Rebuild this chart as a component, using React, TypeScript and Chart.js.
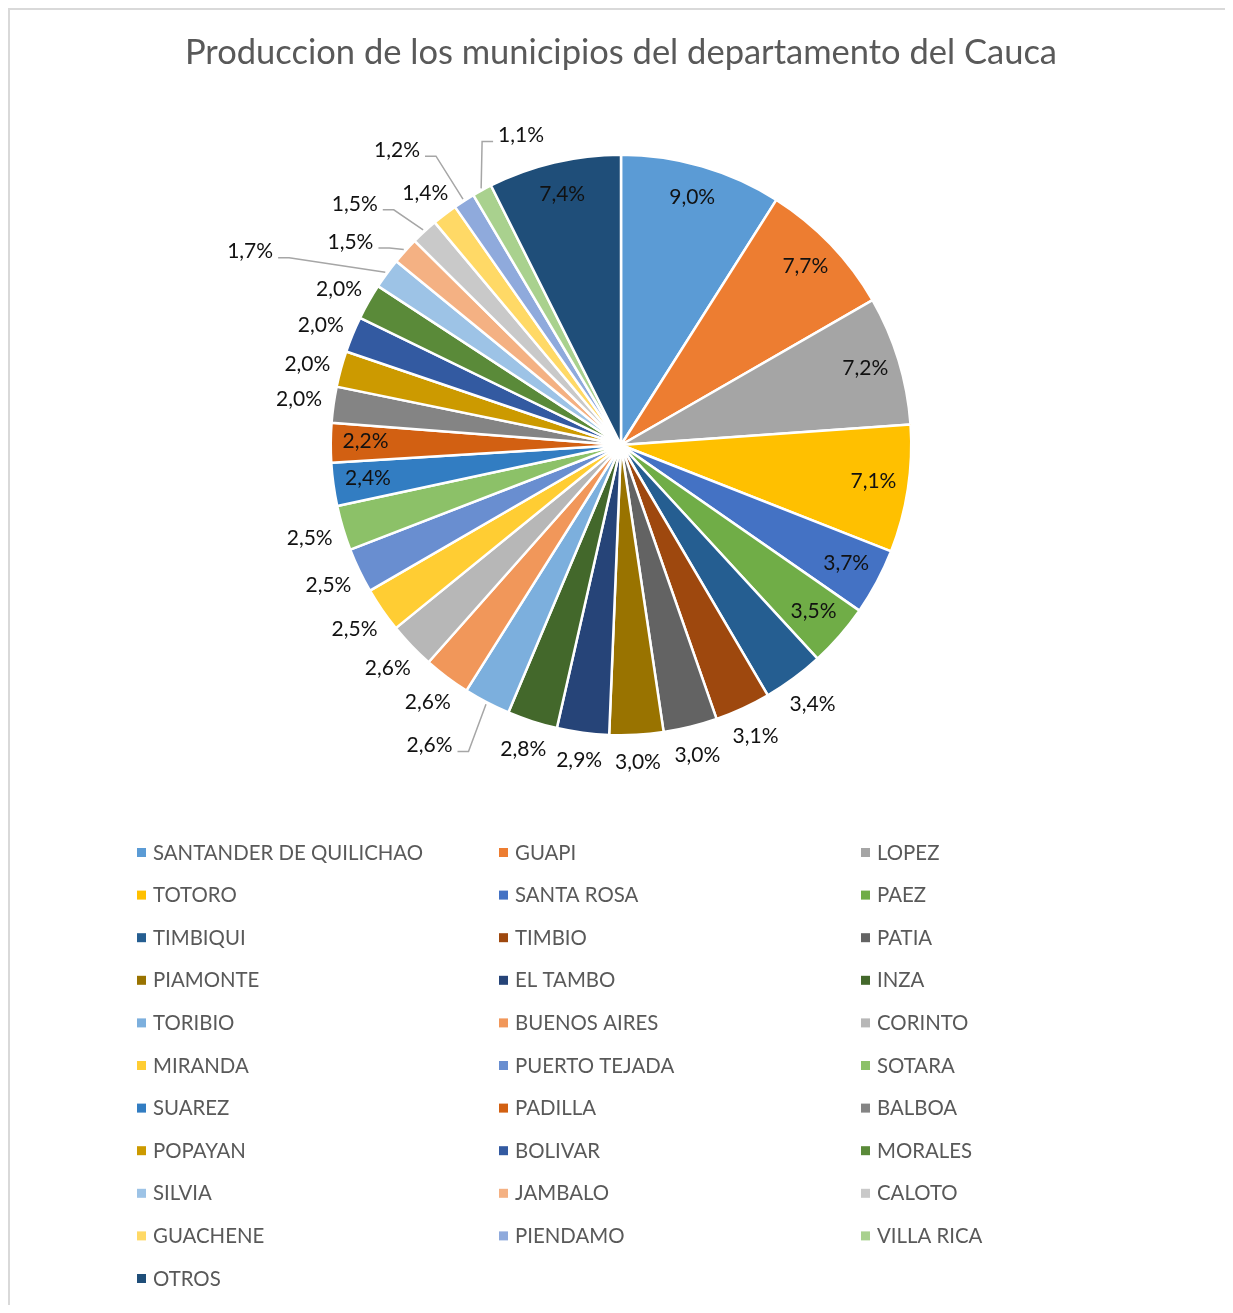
import React, { useEffect, useRef } from "react";
import { Chart, registerables } from "chart.js";

Chart.register(...registerables);

const titleText = "Produccion de los municipios del departamento del Cauca";

const municipios = [
  "SANTANDER DE QUILICHAO", "GUAPI", "LOPEZ", "TOTORO", "SANTA ROSA", "PAEZ",
  "TIMBIQUI", "TIMBIO", "PATIA", "PIAMONTE", "EL TAMBO", "INZA",
  "TORIBIO", "BUENOS AIRES", "CORINTO", "MIRANDA", "PUERTO TEJADA", "SOTARA",
  "SUAREZ", "PADILLA", "BALBOA", "POPAYAN", "BOLIVAR", "MORALES",
  "SILVIA", "JAMBALO", "CALOTO", "GUACHENE", "PIENDAMO", "VILLA RICA",
  "OTROS",
];

const porcentajes = [
  9.0, 7.7, 7.2, 7.1, 3.7, 3.5,
  3.4, 3.1, 3.0, 3.0, 2.9, 2.8,
  2.6, 2.6, 2.6, 2.5, 2.5, 2.5,
  2.4, 2.2, 2.0, 2.0, 2.0, 2.0,
  1.7, 1.5, 1.5, 1.4, 1.2, 1.1,
  7.4,
];

const colores = [
  "#5B9BD5", "#ED7D31", "#A5A5A5", "#FFC000", "#4472C4", "#70AD47",
  "#255E91", "#9E480E", "#636363", "#997300", "#264478", "#43682B",
  "#7CAFDD", "#F1975A", "#B7B7B7", "#FFCD33", "#698ED0", "#8CC168",
  "#327DC2", "#D26012", "#848484", "#CC9A00", "#335AA1", "#5A8A39",
  "#9DC3E6", "#F4B183", "#C9C9C9", "#FFD966", "#8FAADC", "#A9D18E",
  "#1F4E79",
];

const fmt = (v: number) => v.toFixed(1).replace(".", ",") + "%";

// label placement style: 'in' inside slice, 'out' outside, 'lead' outside with leader line
const labelModes = [
  "in", "in", "in", "in", "in", "in",
  "out", "out", "out", "out", "out", "out",
  "lead", "out", "out", "out", "out", "out",
  "in", "in", "out", "out", "out", "out",
  "lead", "lead", "lead", "out", "lead", "lead",
  "in",
];

// leader label offsets: angle delta (deg) from slice middle, distance beyond the outer radius (px)
const leaderOffsets: Record<number, { da: number; dr: number }> = {
  12: { da: 5, dr: 66 },
  24: { da: -8.7, dr: 128 },
  25: { da: -5.1, dr: 48 },
  26: { da: -5.2, dr: 69 },
  28: { da: -4.5, dr: 80 },
  29: { da: 10.7, dr: 35 },
};

const FONT = "Lato, 'Open Sans', sans-serif";

const titlePlugin = {
  id: "plainTitle",
  afterDraw(chart: any) {
    const ctx = chart.ctx;
    const cx = (chart.chartArea.left + chart.chartArea.right) / 2;
    ctx.save();
    ctx.font = `34.5px ${FONT}`;
    ctx.fillStyle = "#595959";
    ctx.textAlign = "center";
    ctx.textBaseline = "alphabetic";
    ctx.fillText(titleText, cx, 54);
    ctx.restore();
  },
};

const sliceLabelPlugin = {
  id: "sliceLabels",
  afterDatasetsDraw(chart: any) {
    const ctx = chart.ctx;
    const meta = chart.getDatasetMeta(0);
    const vals = chart.data.datasets[0].data as number[];
    ctx.save();
    ctx.font = `21px ${FONT}`;
    ctx.textAlign = "center";
    ctx.textBaseline = "middle";
    meta.data.forEach((arc: any, i: number) => {
      const p = arc.getProps(["x", "y", "startAngle", "endAngle", "outerRadius"], true);
      const R = p.outerRadius;
      const mid = (p.startAngle + p.endAngle) / 2;
      const text = fmt(vals[i]);
      const mode = labelModes[i];
      let lx: number, ly: number;
      if (mode === "in") {
        const d = R * 0.88;
        lx = p.x + Math.cos(mid) * d;
        ly = p.y + Math.sin(mid) * d - 2;
      } else if (mode === "out") {
        const d = R + 27 + 8 * Math.abs(Math.cos(mid));
        lx = p.x + Math.cos(mid) * d;
        ly = p.y + Math.sin(mid) * d + (Math.sin(mid) < -0.2 ? 4 : 0);
      } else {
        const o = leaderOffsets[i];
        const a = mid + (o.da * Math.PI) / 180;
        const d = R + o.dr;
        lx = p.x + Math.cos(a) * d;
        ly = p.y + Math.sin(a) * d;
        const w = ctx.measureText(text).width;
        const ex = p.x + Math.cos(mid) * (R + 2);
        const ey = p.y + Math.sin(mid) * (R + 2);
        const side = lx < ex ? 1 : -1;
        const tx = lx + side * (w / 2 + 5);
        const ty = ly + 6;
        const bx = tx + side * 11;
        ctx.strokeStyle = "#A6A6A6";
        ctx.lineWidth = 1.5;
        ctx.beginPath();
        ctx.moveTo(ex, ey);
        ctx.lineTo(bx, ty);
        ctx.lineTo(tx, ty);
        ctx.stroke();
      }
      ctx.fillStyle = "#111111";
      ctx.fillText(text, lx, ly);
    });
    ctx.restore();
  },
};

const gridLegendPlugin = {
  id: "gridLegend",
  afterDraw(chart: any) {
    const ctx = chart.ctx;
    const names = chart.data.labels as string[];
    const bg = chart.data.datasets[0].backgroundColor as string[];
    const colX = [127, 489, 851];
    const top = 842;
    const rowH = 42.6;
    ctx.save();
    ctx.font = `20.4px ${FONT}`;
    ctx.textAlign = "left";
    ctx.textBaseline = "middle";
    names.forEach((name, i) => {
      const col = i % 3;
      const row = Math.floor(i / 3);
      const x = colX[col];
      const y = top + row * rowH;
      ctx.fillStyle = bg[i];
      ctx.fillRect(x, y - 4, 9, 9);
      ctx.fillStyle = "#595959";
      ctx.fillText(name, x + 16, y + 1);
    });
    ctx.restore();
  },
};

export default function App() {
  const ref = useRef<HTMLCanvasElement | null>(null);
  useEffect(() => {
    if (!ref.current) return;
    const chart = new Chart(ref.current, {
      type: "pie",
      data: {
        labels: municipios,
        datasets: [
          {
            data: porcentajes,
            backgroundColor: colores,
            borderColor: "#ffffff",
            borderWidth: 2.5,
          },
        ],
      },
      options: {
        animation: false,
        responsive: false,
        maintainAspectRatio: false,
        layout: { padding: { left: 319.5, right: 320.5, top: 143.5, bottom: 568.5 } },
        plugins: {
          legend: { display: false },
          tooltip: { enabled: false },
          title: { display: false },
        },
      },
      plugins: [sliceLabelPlugin, gridLegendPlugin, titlePlugin],
    });
    return () => chart.destroy();
  }, []);
  return (
    <div
      style={{
        width: 1225,
        height: 1297,
        borderTop: "2px solid #d9d9d9",
        borderLeft: "2px solid #d9d9d9",
        background: "#fff",
        boxSizing: "border-box",
      }}
    >
      <canvas ref={ref} width={1223} height={1295} style={{ display: "block" }} />
    </div>
  );
}
